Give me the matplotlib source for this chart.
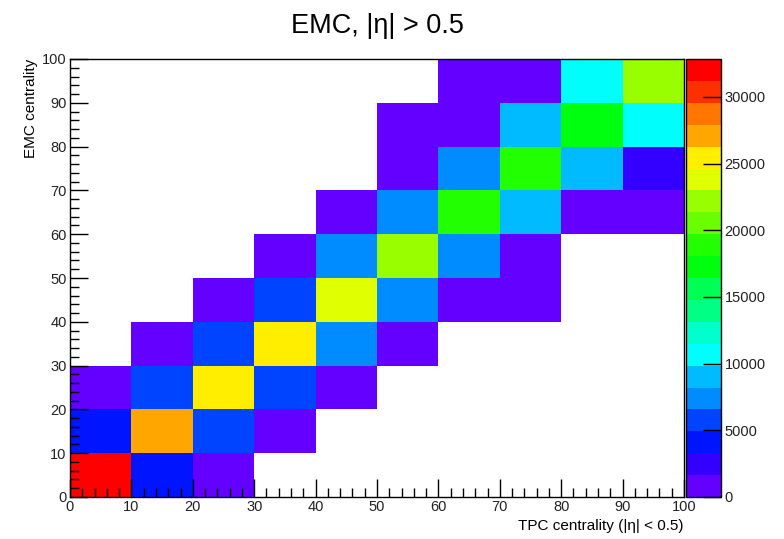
import colorsys
import numpy as np
import matplotlib
matplotlib.use("Agg")
import matplotlib.pyplot as plt
import matplotlib.ticker as ticker
from matplotlib.colors import ListedColormap, BoundaryNorm

plt.rcParams['font.family'] = ['Liberation Sans', 'DejaVu Sans']

# bin edges (centrality %)
tpc_edges = [0, 10, 20, 30, 40, 50, 60, 70, 80, 90, 100]
emc_edges = [0, 10, 20, 30, 40, 50, 60, 70, 80, 90, 100]

# bin contents, one row per EMC bin (bottom to top), columns = TPC bins
counts = [
    [32850, 4100, 800, 0, 0, 0, 0, 0, 0, 0],
    [4100, 27100, 5750, 800, 0, 0, 0, 0, 0, 0],
    [800, 5750, 25500, 5750, 800, 0, 0, 0, 0, 0],
    [0, 800, 5750, 25500, 7400, 800, 0, 0, 0, 0],
    [0, 0, 800, 5750, 23800, 7400, 800, 800, 0, 0],
    [0, 0, 0, 800, 7400, 22200, 7400, 800, 0, 0],
    [0, 0, 0, 0, 800, 7400, 18900, 9000, 800, 800],
    [0, 0, 0, 0, 0, 800, 7400, 18900, 9000, 2460],
    [0, 0, 0, 0, 0, 800, 800, 9000, 17200, 10700],
    [0, 0, 0, 0, 0, 0, 800, 800, 10700, 22200],
]
z_max = 32850
cbar_ticks = [0, 5000, 10000, 15000, 20000, 25000, 30000]

# ROOT "pretty" palette: 50 HLS hues violet -> red, sampled on 20 contours
n_levels = 20
pal = []
for i in range(49):
    hue = 280 - (i + 1) * 280 / 50
    pal.append(colorsys.hls_to_rgb(hue / 360, 0.5, 1.0))
pal.append((1.0, 0.0, 0.0))
level_colors = [pal[int((k + 0.99) * 50 / n_levels)] for k in range(n_levels)]
cmap = ListedColormap(level_colors)
norm = BoundaryNorm(np.linspace(0, z_max, n_levels + 1), n_levels)

fig = plt.figure(figsize=(7.84, 5.39), dpi=100)
W, H = 784, 539
ax = fig.add_axes([70 / W, (H - 497) / H, 614 / W, 438 / H])
cax = fig.add_axes([686 / W, (H - 497) / H, 34.5 / W, 438 / H])

z = np.ma.masked_equal(np.array(counts, dtype=float), 0)
mesh = ax.pcolormesh(tpc_edges, emc_edges, z, cmap=cmap, norm=norm,
                     edgecolors='none')

ax.set_xlim(0, 100)
ax.set_ylim(0, 100)
for axis in (ax.xaxis, ax.yaxis):
    axis.set_major_locator(ticker.MultipleLocator(10))
    axis.set_minor_locator(ticker.MultipleLocator(2))
ax.tick_params(which='both', direction='in', top=False, right=False,
               width=1, labelsize=10.5, pad=2.5, labelcolor='#222222')
ax.tick_params(which='major', length=13)
ax.tick_params(which='minor', length=6.5)
for sp in ax.spines.values():
    sp.set_linewidth(1.0)

ax.set_xlabel('TPC centrality (|η| < 0.5)', fontsize=11, loc='right',
              labelpad=3)
ax.set_ylabel('EMC centrality', fontsize=11, loc='top', labelpad=3)
ax.set_title('EMC, |η| > 0.5', fontsize=19.5, pad=19)

cb = fig.colorbar(mesh, cax=cax, ticks=cbar_ticks)
cb.outline.set_linewidth(1.0)
cax.minorticks_off()
cax.tick_params(direction='in', length=13, width=1, right=True, left=False,
                labelsize=10.5, pad=3, labelcolor='#222222')
cax.yaxis.set_major_formatter(ticker.FormatStrFormatter('%d'))

fig.savefig('out.png', dpi=100)
